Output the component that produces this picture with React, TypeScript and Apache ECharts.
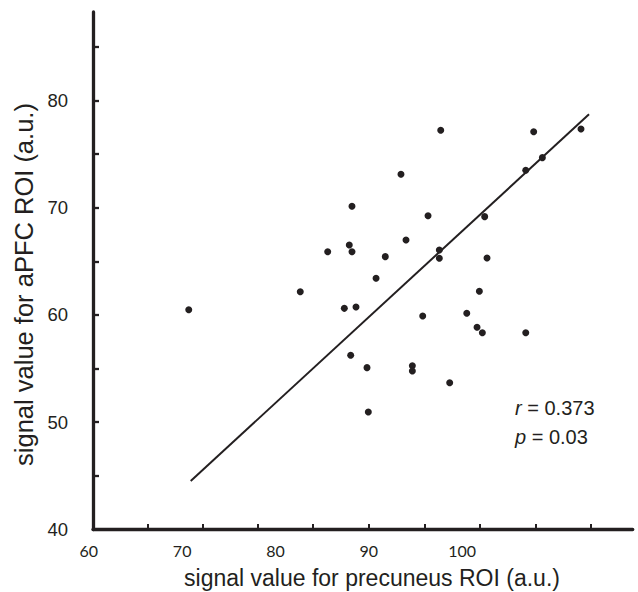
import React, { useEffect, useRef } from "react";
import * as echarts from "echarts";

// precuneus signal (x) and aPFC signal (y)
const precuneus = [
  70.26, 87.75, 87.46, 85.15, 87.75, 91.32, 90.33, 82.21, 86.93, 88.18, 87.61, 89.36, 89.5,
  97.26, 107.22, 112.29, 108.15, 106.37, 93.0, 95.9, 101.97, 93.54, 97.11, 97.11, 102.22,
  101.4, 95.33, 100.05, 101.15, 101.72, 106.37, 94.22, 94.22, 98.22,
];
const aPFC = [
  60.49, 70.14, 66.53, 65.9, 65.9, 65.44, 63.42, 62.17, 60.62, 60.75, 56.24, 55.09, 50.96,
  77.22, 77.09, 77.34, 74.67, 73.49, 73.12, 69.26, 69.17, 66.99, 66.06, 65.29, 65.31,
  62.21, 59.91, 60.16, 58.85, 58.35, 58.35, 55.27, 54.78, 53.69,
];
const fitLine = [
  [70.47, 44.52],
  [113.15, 78.71],
];
const xLabelValues = [60, 70, 80, 90, 100];
const xTickValues = [65.9, 71.8, 77.7, 83.6, 89.6, 95.5, 101.4, 107.4, 113.3];
const yLabelValues = [40, 50, 60, 70, 80];
const yTickValues = [45, 50, 55, 60, 65, 70, 75, 80, 85];
const xTitle = "signal value for precuneus ROI (a.u.)";
const yTitle = "signal value for aPFC ROI (a.u.)";
const rText = "0.373";
const pText = "0.03";

const INK = "#231f20";

export default function App() {
  const ref = useRef<HTMLDivElement>(null);
  useEffect(() => {
    document.body.style.margin = "0";
    const chart = echarts.init(ref.current!, undefined, { renderer: "svg" });
    const points = precuneus.map((x, i) => [x, aPFC[i]]);
    chart.setOption({
      animation: false,
      backgroundColor: "#ffffff",
      grid: { left: 93, top: 12, right: 5.3, bottom: 62.5, containLabel: false },
      xAxis: {
        type: "value",
        min: 60,
        max: 117.83,
        splitLine: { show: false },
        axisLine: { show: true, lineStyle: { color: INK, width: 3.3 } },
        axisTick: {
          show: true,
          inside: true,
          length: 5.5,
          customValues: xTickValues,
          lineStyle: { color: INK, width: 2 },
        },
        axisLabel: {
          customValues: xLabelValues,
          margin: 13,
          color: INK,
          fontFamily: "Lato",
          fontSize: 16,
          padding: [0, 8.4, 0, 0],
        },
      },
      yAxis: {
        type: "value",
        min: 40,
        max: 88.25,
        splitLine: { show: false },
        axisLine: { show: true, lineStyle: { color: INK, width: 3.3 } },
        axisTick: {
          show: true,
          inside: true,
          length: 6,
          customValues: yTickValues,
          lineStyle: { color: INK, width: 2.3 },
        },
        axisLabel: {
          customValues: yLabelValues,
          margin: 25,
          color: INK,
          fontFamily: "Liberation Sans, Arial",
          fontSize: 18.5,
        },
      },
      series: [
        {
          type: "scatter",
          data: points,
          symbol: "circle",
          symbolSize: 7,
          itemStyle: { color: INK, opacity: 1 },
          z: 3,
        },
        {
          type: "line",
          data: fitLine,
          symbol: "none",
          lineStyle: { color: INK, width: 2 },
          z: 2,
        },
      ],
      graphic: [
        {
          type: "text",
          x: 372,
          y: 578,
          style: {
            text: xTitle,
            font: "23px 'Liberation Sans', Arial",
            fill: INK,
            textAlign: "center",
            textVerticalAlign: "middle",
          },
        },
        {
          type: "text",
          x: 24,
          y: 284.5,
          rotation: Math.PI / 2,
          style: {
            text: yTitle,
            font: "25.5px 'Liberation Sans', Arial",
            fill: INK,
            textAlign: "center",
            textVerticalAlign: "middle",
          },
        },
        {
          type: "text",
          x: 515,
          y: 408,
          style: {
            text: "{i|r} = " + rText,
            font: "20px 'Liberation Sans', Arial",
            fill: INK,
            textAlign: "left",
            textVerticalAlign: "middle",
            rich: { i: { fontStyle: "italic", fontSize: 20, fontFamily: "Liberation Sans" } },
          },
        },
        {
          type: "text",
          x: 515,
          y: 437,
          style: {
            text: "{i|p} = " + pText,
            font: "20px 'Liberation Sans', Arial",
            fill: INK,
            textAlign: "left",
            textVerticalAlign: "middle",
            rich: { i: { fontStyle: "italic", fontSize: 20, fontFamily: "Liberation Sans" } },
          },
        },
      ],
    });
    return () => chart.dispose();
  }, []);
  return <div ref={ref} style={{ width: 638, height: 592 }} />;
}
